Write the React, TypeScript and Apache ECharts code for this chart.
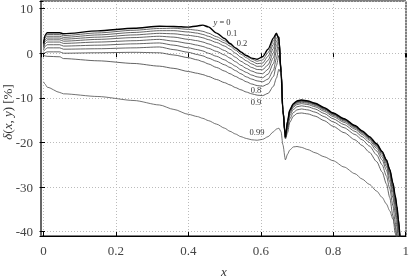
import { useEffect, useRef } from "react";
import * as echarts from "echarts";

const X = [0, 0.004, 0.01, 0.045, 0.055, 0.15, 0.25, 0.32, 0.36, 0.40,
  0.425, 0.44, 0.455, 0.478, 0.50, 0.515, 0.53, 0.545, 0.56, 0.575,
  0.59, 0.605, 0.62, 0.635, 0.643, 0.65, 0.656, 0.661, 0.668, 0.674,
  0.68, 0.69, 0.70, 0.712, 0.73, 0.75, 0.775, 0.80, 0.83, 0.86,
  0.88, 0.90, 0.92, 0.935, 0.947, 0.956, 0.965, 0.971, 0.976, 0.98, 0.985];

const Y_00 = [2.2, 4.0, 4.6, 4.6, 4.35, 5.0, 5.6, 6.05, 6.0, 5.85,
  6.1, 6.3, 5.9, 4.5, 3.3, 2.2, 1.2, 0.3, -0.5, -1.1,
  -1.35, -0.8, 0.9, 3.4, 4.5, 3.2, -4.4, -12.7, -18.8, -15.2,
  -12.7, -11.3, -10.7, -10.5, -10.7, -11.2, -12.2, -13.4, -14.7, -16.2,
  -17.4, -18.7, -20.3, -22.0, -23.9, -26.0, -29.1, -31.8, -34.3, -37.2, -42];
const Y_01 = [2.0, 3.7, 4.2, 4.2, 3.95, 4.55, 5.15, 5.55, 5.6, 5.35,
  5.15, 4.9, 4.5, 3.7, 2.8, 2.0, 1.1, 0.2, -0.6, -1.3,
  -1.8, -1.5, 0.1, 2.8, 4.3, 3.4, -4.4, -12.7, -18.8, -15.3,
  -12.75, -11.35, -10.75, -10.55, -10.75, -11.25, -12.25, -13.45, -14.75, -16.25,
  -17.45, -18.75, -20.35, -22.05, -23.95, -26.1, -29.2, -31.9, -34.5, -37.4, -42];
const Y_02 = [1.8, 3.4, 3.8, 3.8, 3.55, 4.1, 4.65, 5.05, 5.05, 4.75,
  4.5, 4.2, 3.8, 3.1, 2.3, 1.6, 0.7, -0.2, -1.0, -1.8,
  -2.35, -2.2, -0.7, 2.0, 4.1, 3.6, -4.4, -12.7, -18.8, -15.4,
  -12.8, -11.4, -10.8, -10.6, -10.8, -11.3, -12.3, -13.5, -14.8, -16.3,
  -17.5, -18.8, -20.4, -22.1, -24.0, -26.2, -29.3, -32.1, -34.7, -37.7, -42];
const Y_03 = [1.6, 3.0, 3.4, 3.4, 3.15, 3.6, 4.1, 4.45, 4.35, 4.0,
  3.75, 3.45, 3.05, 2.4, 1.6, 0.9, 0.0, -0.9, -1.7, -2.4,
  -2.95, -2.9, -1.6, 1.1, 3.4, 3.7, -4.2, -12.7, -18.8, -15.5,
  -12.9, -11.5, -10.9, -10.7, -10.9, -11.4, -12.4, -13.6, -14.9, -16.4,
  -17.6, -18.9, -20.5, -22.2, -24.2, -26.4, -29.6, -32.4, -35.0, -38.0, -42];
const Y_04 = [1.4, 2.6, 3.0, 3.0, 2.7, 3.1, 3.5, 3.8, 3.6, 3.1,
  2.8, 2.5, 2.1, 1.4, 0.6, -0.1, -0.9, -1.8, -2.5, -3.2,
  -3.65, -3.7, -2.6, 0.1, 2.6, 3.6, -4.0, -12.7, -18.8, -15.6,
  -13.0, -11.6, -11.0, -10.8, -11.0, -11.5, -12.5, -13.7, -15.0, -16.5,
  -17.7, -19.0, -20.7, -22.4, -24.4, -26.7, -29.9, -32.8, -35.5, -38.5, -42];
const Y_05 = [1.1, 2.1, 2.5, 2.5, 2.2, 2.5, 2.8, 3.1, 2.7, 2.2,
  1.8, 1.5, 1.1, 0.4, -0.4, -1.1, -1.9, -2.7, -3.4, -4.0,
  -4.45, -4.6, -3.6, -1.0, 1.6, 3.2, -3.8, -12.8, -18.8, -15.8,
  -13.2, -11.8, -11.2, -11.0, -11.2, -11.7, -12.7, -13.9, -15.2, -16.7,
  -17.9, -19.2, -20.9, -22.7, -24.8, -27.1, -30.4, -33.4, -36.2, -39.3, -42];
const Y_06 = [0.8, 1.5, 1.9, 1.9, 1.6, 1.8, 2.1, 2.3, 1.8, 1.2,
  0.8, 0.5, 0.0, -0.7, -1.5, -2.2, -2.9, -3.7, -4.3, -4.9,
  -5.3, -5.5, -4.7, -2.3, 0.4, 2.5, -3.6, -12.8, -18.9, -16.1,
  -13.5, -12.1, -11.5, -11.3, -11.5, -12.0, -13.0, -14.2, -15.5, -17.0,
  -18.2, -19.5, -21.3, -23.2, -25.4, -27.8, -31.2, -34.3, -37.3, -40.5, -42];
const Y_07 = [0.4, 0.8, 1.2, 1.2, 0.9, 1.0, 1.2, 1.4, 0.8, 0.2,
  -0.3, -0.6, -1.1, -1.8, -2.6, -3.2, -3.9, -4.6, -5.3, -5.8,
  -6.2, -6.4, -5.8, -3.8, -1.2, 1.4, -3.5, -12.9, -18.9, -16.5,
  -14.0, -12.6, -12.0, -11.8, -12.0, -12.5, -13.5, -14.7, -16.0, -17.5,
  -18.7, -20.0, -21.9, -23.9, -26.2, -28.8, -32.4, -35.7, -38.9, -42, -42];
const Y_08 = [-0.1, 0.1, 0.3, 0.3, 0.0, 0.1, 0.2, 0.1, -0.4, -1.0,
  -1.5, -1.9, -2.4, -3.2, -4.0, -4.6, -5.2, -5.8, -6.4, -6.9,
  -7.25, -7.4, -6.9, -5.2, -2.8, -0.5, -3.6, -13.0, -19.0, -17.0,
  -14.7, -13.3, -12.7, -12.5, -12.7, -13.2, -14.2, -15.4, -16.7, -18.2,
  -19.4, -20.8, -22.8, -25.0, -27.5, -30.3, -34.2, -37.8, -41.5, -42, -42];
const Y_09 = [-0.5, -0.6, -0.7, -0.8, -1.2, -1.7, -2.3, -2.9, -3.4, -4.1,
  -4.5, -4.8, -5.2, -5.9, -6.6, -7.1, -7.7, -8.2, -8.7, -9.1,
  -9.4, -9.5, -9.0, -7.4, -5.6, -3.6, -4.5, -13.3, -19.2, -17.8,
  -15.5, -14.1, -13.5, -13.4, -13.6, -14.1, -15.1, -16.4, -17.8, -19.4,
  -20.7, -22.2, -24.3, -26.6, -29.3, -32.3, -36.5, -40.3, -42, -42, -42];
const Y_099 = [-6.4, -6.9, -7.6, -8.8, -9.1, -9.7, -10.6, -11.6, -12.6, -13.7,
  -14.2, -14.6, -15.1, -15.9, -16.8, -17.5, -18.1, -18.7, -19.1, -19.4,
  -19.5, -19.3, -18.7, -17.6, -17.0, -16.8, -17.6, -20.5, -23.9, -22.6,
  -21.7, -21.0, -20.9, -21.1, -21.6, -22.3, -23.2, -24.1, -25.5, -27.0,
  -28.2, -29.4, -30.9, -32.3, -33.8, -35.3, -37.2, -38.8, -41.0, -42, -42];

const CURVE_NAMES = ["0", "0.1", "0.2", "0.3", "0.4", "0.5", "0.6", "0.7", "0.8", "0.9", "0.99"];
const CURVE_VALUES = [Y_00, Y_01, Y_02, Y_03, Y_04, Y_05, Y_06, Y_07, Y_08, Y_09, Y_099];

const X_MIN = -0.007;
const X_MAX = 1.001;
const Y_MIN = -40.96;
const Y_MAX = 11.7;

export default function App() {
  const ref = useRef<HTMLDivElement>(null);
  useEffect(() => {
    const chart = echarts.init(ref.current!, null, { renderer: "svg" });
    const serif = "'Liberation Serif', 'DejaVu Serif', serif";
    const series = CURVE_VALUES.map((vals, i) => ({
      type: "line",
      name: CURVE_NAMES[i],
      data: X.map((x, j) => [x, vals[j]]),
      showSymbol: false,
      symbol: "none",
      smooth: 0.25,
      smoothMonotone: "x",
      silent: true,
      z: i === 0 ? 5 : 3,
      lineStyle: {
        color: i === 0 ? "#000" : i === 10 ? "#5a5a5a" : "#484848",
        width: i === 0 ? 1.4 : 0.85,
      },
    }));
    const xFmt = (v: number) => {
      const k = Math.round(v / 0.2);
      if (Math.abs(v - k * 0.2) > 1e-6) return "";
      return String(Math.round(k * 0.2 * 10) / 10);
    };
    const yFmt = (v: number) => {
      const k = Math.round(v / 10);
      if (Math.abs(v - k * 10) > 1e-6) return "";
      return String(k * 10);
    };
    const small = `8.5px ${serif}`;
    const lbl = (text: string, x: number, y: number) => ({
      type: "text",
      x,
      y,
      silent: true,
      z: 100,
      style: {
        text,
        font: small,
        fill: "#333",
        textAlign: "center",
        textVerticalAlign: "middle",
        rich: { i: { fontStyle: "italic", fontSize: 8.5, fontFamily: serif, fill: "#333" } },
      },
    });
    chart.setOption({
      animation: false,
      grid: { left: 41, right: 9, top: 1, bottom: 41, show: true, borderColor: "#000", borderWidth: 1, backgroundColor: "transparent" },
      xAxis: [
        {
          type: "value", min: X_MIN, max: X_MAX, position: "bottom",
          axisLine: { show: true, onZero: false, lineStyle: { color: "#000", width: 1 } },
          axisTick: { show: true, inside: true, length: 4, lineStyle: { color: "#000" } },
          axisLabel: { margin: 8, color: "#444", fontFamily: serif, fontSize: 13, showMinLabel: false, showMaxLabel: false, formatter: xFmt },
          splitLine: { show: true, lineStyle: { color: "#bbb", type: [1, 2], width: 1 } },
        },
        {
          type: "value", min: X_MIN, max: X_MAX, position: "top",
          axisLine: { show: false },
          axisTick: { show: true, inside: true, length: 4, lineStyle: { color: "#000" } },
          axisLabel: { show: false },
          splitLine: { show: false },
        },
      ],
      yAxis: [
        {
          type: "value", min: Y_MIN, max: Y_MAX, position: "left",
          axisLine: { show: true, onZero: false, lineStyle: { color: "#666", width: 2 } },
          axisTick: { show: true, inside: true, length: 4, lineStyle: { color: "#000" } },
          axisLabel: { margin: 8, color: "#444", fontFamily: serif, fontSize: 13, showMinLabel: false, showMaxLabel: false, formatter: yFmt },
          splitLine: { show: true, lineStyle: { color: "#bbb", type: [1, 2], width: 1 } },
        },
        {
          type: "value", min: Y_MIN, max: Y_MAX, position: "right",
          axisLine: { show: false },
          axisTick: { show: true, inside: true, length: 4, lineStyle: { color: "#000" } },
          axisLabel: { show: false },
          splitLine: { show: false },
        },
      ],
      series,
      graphic: [
        lbl("{i|y} = 0", 222, 22),
        lbl("0.1", 232, 33),
        lbl("0.2", 242, 43),
        lbl("0.8", 256, 90),
        lbl("0.9", 256, 101.5),
        lbl("0.99", 257, 131.5),
        {
          type: "text", x: 224, y: 271, silent: true,
          style: { text: "x", font: `italic 13px ${serif}`, fill: "#333", textAlign: "center", textVerticalAlign: "middle" },
        },
        {
          type: "text", x: 7, y: 112, rotation: Math.PI / 2, silent: true,
          style: {
            text: "{i|δ}({i|x}, {i|y}) [%]",
            font: `13px ${serif}`,
            fill: "#333",
            textAlign: "center",
            textVerticalAlign: "middle",
            rich: { i: { fontStyle: "italic", fontSize: 13, fontFamily: serif, fill: "#333" } },
          },
        },
      ],
    });
    return () => chart.dispose();
  }, []);
  return <div ref={ref} style={{ position: "fixed", left: 0, top: 0, width: 415, height: 277 }} />;
}
